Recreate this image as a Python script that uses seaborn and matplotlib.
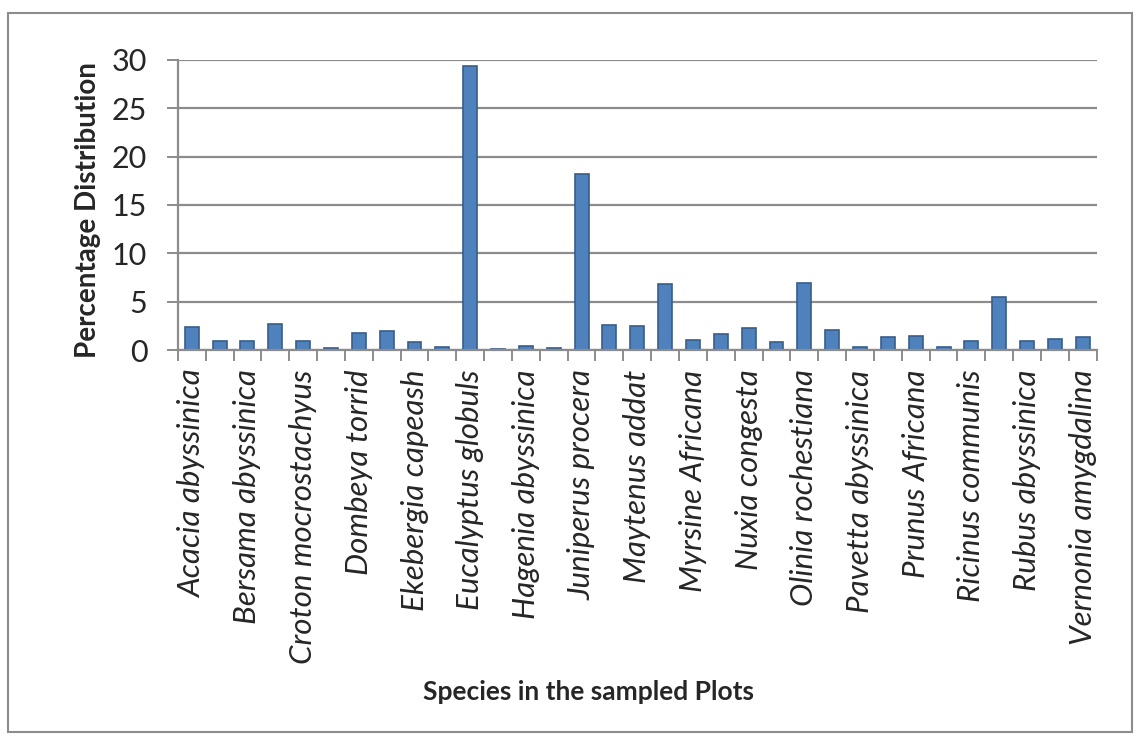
import pandas as pd
import matplotlib.pyplot as plt
import seaborn as sns

# Percentage distribution per species (33 bars, only every other one is labelled)
values = [2.4, 0.9, 0.9, 2.7, 0.9, 0.2, 1.8, 2.0, 0.8, 0.3,
          29.4, 0.1, 0.4, 0.2, 18.2, 2.6, 2.5, 6.8, 1.0, 1.7,
          2.3, 0.85, 6.9, 2.1, 0.3, 1.3, 1.5, 0.3, 0.95, 5.5,
          0.95, 1.1, 1.3]
shown_labels = ["Acacia abyssinica", "Bersama abyssinica", "Croton mocrostachyus",
                "Dombeya torrid", "Ekebergia capeash", "Eucalyptus globuls",
                "Hagenia abyssinica", "Juniperus procera", "Maytenus addat",
                "Myrsine Africana", "Nuxia congesta", "Olinia rochestiana",
                "Pavetta abyssinica", "Prunus Africana", "Ricinus communis",
                "Rubus abyssinica", "Vernonia amygdalina"]
y_ticks = [0, 5, 10, 15, 20, 25, 30]

sns.set_theme(style="white")
plt.rcParams['font.family'] = ['Lato', 'DejaVu Sans']

df = pd.DataFrame({'pos': range(len(values)), 'pct': values})

fig = plt.figure(figsize=(11.4, 7.4), dpi=100)
ax = fig.add_axes([0.156, 0.527, 0.806, 0.392])

sns.barplot(data=df, x='pos', y='pct', color='#4F81BD', width=0.5,
            edgecolor='#385D8A', linewidth=1.2, saturation=1, ax=ax)

ax.set_xlim(-0.5, len(values) - 0.5)
ax.set_ylim(0, 30)
ax.set_yticks(y_ticks)
ax.set_yticklabels([str(t) for t in y_ticks], fontsize=22)
ax.yaxis.grid(True, color='#8C8C8C', linewidth=1.6)
ax.set_axisbelow(True)

ax.set_xticks(range(0, len(values), 2))
ax.set_xticklabels(shown_labels, rotation=90, fontsize=22.5, style='italic')
# tick marks sit between bars
ax.set_xticks([i - 0.5 for i in range(len(values) + 1)], minor=True)
ax.tick_params(axis='x', which='major', length=0, pad=14)
ax.tick_params(axis='x', which='minor', length=8, color='#8C8C8C', width=1.4,
               direction='out', bottom=True)
ax.tick_params(axis='y', length=8, color='#8C8C8C', width=1.4, direction='out',
               left=True, pad=14)

for side in ['top', 'right']:
    ax.spines[side].set_visible(False)
for side in ['left', 'bottom']:
    ax.spines[side].set_color('#8C8C8C')
    ax.spines[side].set_linewidth(1.6)

ax.set_xlabel('')
ax.set_ylabel('Percentage Distribution', fontsize=20, weight='bold')
ax.yaxis.set_label_coords(-0.084, 0.483)
fig.text(0.516, 0.065, 'Species in the sampled Plots', ha='center', va='center',
         fontsize=19, weight='bold')

# outer chart border
border = plt.Rectangle((0.007, 0.011), 0.986, 0.972, transform=fig.transFigure,
                       fill=False, edgecolor='#8C8C8C', linewidth=1.5)
fig.patches.append(border)

fig.savefig('out.png', dpi=100)
